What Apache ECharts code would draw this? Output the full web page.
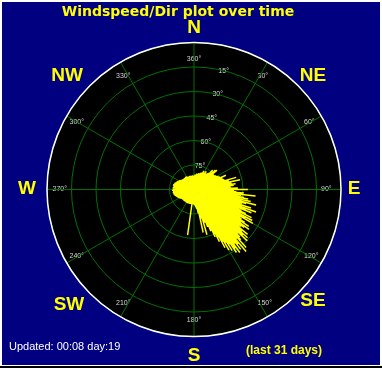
<!DOCTYPE html>
<html>
<head>
<meta charset="utf-8">
<script src="https://cdn.jsdelivr.net/npm/echarts@6/dist/echarts.min.js"></script>
<style>
html,body{margin:0;padding:0;background:#fff;}
#main{width:382px;height:368px;}
</style>
</head>
<body>
<div id="main"></div>
<script>
// ---- data ----
const titleText = 'Windspeed/Dir plot over time';
const updatedText = 'Updated: 00:08 day:19';
const periodText = '(last 31 days)';
const compassNames = ['N', 'NE', 'E', 'SE', 'S', 'SW', 'W', 'NW'];
const angleTickStep = 30;          // degrees between angle labels
const ringStep = 15;               // ring labels 75°,60°,45°,30°,15°
const ringMax = 90;

// wind direction (deg, clockwise from N) and plotted length (ring units, 0..90)
const windDir = [
  0,2,4,6,8,10,12,14,16,18,20,22,24,26,28,30,32,34,36,38,40,42,44,46,48,50,52,54,56,58,
  60,62,64,66,68,70,72,74,76,78,80,82,84,86,88,
  90,91,92,93,94,95,96,97,98,99,100,101,102,103,104,105,106,107,108,109,
  110,111,112,113,114,115,116,117,118,119,120,121,122,123,124,125,126,127,128,129,
  130,131,132,133,134,135,136,137,138,139,140,141,142,143,144,145,146,147,148,149,
  150,151,152,153,154,155,156,157,158,159,160,161,162,163,164,165,166,167,168,169,170,
  172,174,176,178,180,182,184,186,188,190,192,194,196,198,200,202,204,206,208,210,
  212,214,216,218,220,222,224,226,228,230,232,234,236,238,240,242,244,246,248,250,
  252,254,256,258,260,262,264,266,268,270,272,274,276,278,280,282,284,286,288,290,
  292,294,296,298,300,302,304,306,308,310,312,314,316,318,320,322,324,326,328,330,
  332,334,336,338,340,342,344,346,348,350,352,354,356,358];
const windSpeed = [
  8.6,8.6,9.2,9.2,9.2,9.8,9.8,9.8,10.4,10.4,
  10.4,11.0,11.0,11.6,12.9,11.6,12.2,13.5,12.2,12.2,
  12.9,13.5,16.5,14.7,17.7,18.4,14.7,15.3,15.3,15.9,
  16.5,17.1,17.7,21.4,18.4,19.0,19.6,26.9,22.0,28.8,
  23.3,25.7,24.5,22.6,26.9,
  33.0,23.0,24.5,26.0,30.6,25.0,37.9,29.0,27.5,31.0,
  33.7,28.0,35.5,30.0,39.2,33.0,30.6,29.5,36.7,31.0,
  40.4,34.0,37.9,30.0,31.8,35.0,39.2,32.0,40.4,36.0,
  41.6,33.0,34.3,37.0,40.4,35.0,41.6,38.5,36.7,36.0,
  42.8,39.0,44.1,41.0,45.3,38.0,40.4,42.0,47.7,40.0,
  49.6,43.0,46.5,41.5,47.7,44.0,46.5,40.0,44.1,38.0,
  42.8,36.5,40.4,33.0,35.5,30.0,31.8,27.0,27.5,24.0,
  24.5,20.0,21.4,18.0,28.8,16.0,18.4,14.0,26.9,13.0,
  14.7,
  12.2,11.0,9.8,9.8,
  9.2,9.2,8.6,8.6,28.2,8.6,9.0,9.0,9.2,9.0,
  9.2,9.0,9.4,9.2,9.0,9.2,9.4,9.2,9.0,9.2,
  9.2,9.4,9.2,9.0,9.2,9.4,9.2,9.5,9.8,10.1,
  10.4,10.7,11.0,11.3,11.6,11.9,12.2,12.5,12.9,12.6,
  12.9,13.2,12.6,12.9,13.5,12.9,12.6,13.2,12.9,12.6,
  12.9,13.2,12.9,12.6,12.6,12.2,11.9,11.6,11.3,11.0,
  10.7,10.4,10.1,9.8,9.5,9.2,9.4,9.2,9.0,9.2,
  9.2,9.0,9.2,9.4,9.2,9.0,8.6,8.8,8.6,8.6,
  8.6,8.8,8.6,8.6,8.4,8.6,8.6,8.8,8.6,8.6];

// ---- styles / layout ----
const GREEN = '#007000';
const LABEL = '#d8d8d8';
const CX = 194, CY = 189.5, R = 147;
const compassPos = [[194,28],[313,76],[354,189],[313,301],[194,356],[69,305],[27,189],[67,76]];

// spokes: centre -> tip for every reading
const spokeData = [];
for (let i = 0; i < windDir.length; i++) {
  spokeData.push([0, windDir[i]]);
  spokeData.push([windSpeed[i], windDir[i]]);
}

const graphics = [
  {type:'rect', shape:{x:0,y:0,width:382,height:2}, style:{fill:'#ffffff'}, silent:true},
  {type:'rect', shape:{x:0,y:0,width:2,height:368}, style:{fill:'#ffffff'}, silent:true},
  {type:'rect', shape:{x:380,y:0,width:2,height:368}, style:{fill:'#ffffff'}, silent:true},
  {type:'rect', shape:{x:0,y:365,width:382,height:1}, style:{fill:'#ffffff'}, silent:true},
  {type:'rect', shape:{x:0,y:366,width:382,height:2}, style:{fill:'#000000'}, silent:true},
  {type:'text', x:178, y:12, style:{text:titleText, fill:'#ffff00', font:'bold 14px "DejaVu Sans", Verdana, sans-serif',
     align:'center', verticalAlign:'middle', shadowColor:'#202000', shadowOffsetX:1, shadowOffsetY:1, shadowBlur:0}},
  {type:'text', x:9, y:347, style:{text:updatedText, fill:'#ffffff', font:'11px "Liberation Sans", Arial, sans-serif',
     align:'left', verticalAlign:'middle'}},
  {type:'text', x:246, y:351, style:{text:periodText, fill:'#ffff00', font:'bold 12px "Liberation Sans", Arial, sans-serif',
     align:'left', verticalAlign:'middle'}}
];
compassNames.forEach(function (name, i) {
  graphics.push({type:'text', x:compassPos[i][0], y:compassPos[i][1],
    style:{text:name, fill:'#ffff00', font:'bold 19px "Liberation Sans", Arial, sans-serif',
      align:'center', verticalAlign:'middle'}});
});

const chart = echarts.init(document.getElementById('main'), null, {renderer:'canvas'});
chart.setOption({
  animation: false,
  backgroundColor: '#000080',
  polar: [
    {center:[CX, CY], radius: R},
    {center:[CX, CY], radius: R}
  ],
  angleAxis: [
    {
      polarIndex: 0, type:'value', min:0, max:360, interval: angleTickStep,
      startAngle: 90, clockwise: true, z: 3,
      axisLine: {show:true, lineStyle:{color:'#ffffff', width:1.5}},
      axisTick: {show:false},
      splitLine: {show:true, lineStyle:{color:GREEN, width:1}},
      axisLabel: {show:true, margin:-20, color:LABEL, fontSize:7, fontFamily:'"Liberation Sans", Arial',
        formatter: function (v) { return v === 0 ? '360°' : (v === 360 ? '' : v + '°'); }}
    },
    {
      polarIndex: 1, type:'value', min:0, max:360, startAngle: 76, clockwise: true, show: false
    }
  ],
  radiusAxis: [
    {
      polarIndex: 0, type:'value', min:0, max:ringMax, interval: ringStep, z: 3,
      axisLine:{show:false}, axisTick:{show:false}, axisLabel:{show:false},
      splitLine:{show:true, lineStyle:{color:GREEN, width:1}},
      splitArea:{show:false}
    },
    {
      polarIndex: 1, type:'value', min:0, max:ringMax, interval: ringStep, z: 1,
      axisLine:{show:false}, axisTick:{show:false}, splitLine:{show:false},
      splitArea:{show:true, areaStyle:{color:['#000000','#000000']}},
      axisLabel:{show:true, margin:0, align:'center', verticalAlign:'middle', color:LABEL, fontSize:7,
        fontFamily:'"Liberation Sans", Arial',
        formatter: function (v) { return (v === 0 || v === ringMax) ? '' : (ringMax - v) + '°'; }}
    }
  ],
  series: [{
    type:'line', coordinateSystem:'polar', polarIndex:0,
    data: spokeData, showSymbol:false, symbol:'none', z:5,
    lineStyle:{color:'#ffff00', width:1.5}
  }],
  graphic: graphics
});
</script>
</body>
</html>
